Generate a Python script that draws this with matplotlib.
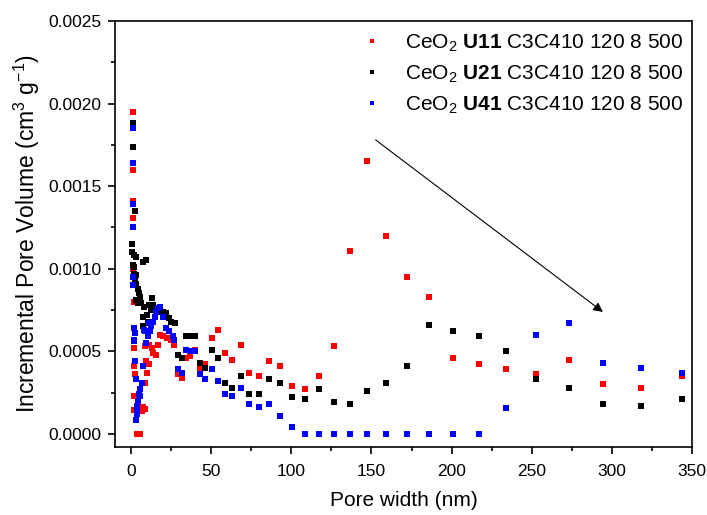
import matplotlib
matplotlib.use("Agg")
import matplotlib.pyplot as plt
from matplotlib.ticker import MultipleLocator, FormatStrFormatter

plt.rcParams['font.family'] = ['Liberation Sans', 'DejaVu Sans']
plt.rcParams['mathtext.fontset'] = 'custom'
plt.rcParams['mathtext.rm'] = 'Liberation Sans'
plt.rcParams['mathtext.bf'] = 'Liberation Sans:bold'

#pore width (nm) and incremental pore volume (cm3/g)
width_u11 = [1.1, 1.1, 1.1, 1.2, 1.3, 1.8, 2.1, 2.1, 2.5, 2.1, 2.1, 3.7, 5.8, 6.7, 7.5,
             8.7, 8.7, 9.5, 10.0, 11.2, 8.7, 11.2, 12.9, 13.7, 15.4, 17.0, 18.3, 20.2,
             22.3, 25.1, 26.8, 29.3, 31.6, 34.1, 36.9, 39.8, 43.0, 46.4, 50.2, 54.3,
             58.6, 63.2, 68.3, 73.7, 79.6, 86.1, 93.0, 100.4, 108.3, 117.0, 126.4, 136.6,
             147.4, 159.3, 172.0, 185.7, 200.6, 216.9, 233.9, 252.6, 273.0, 294.6, 318.2, 343.7]
vol_u11 = [0.00195, 0.00160, 0.00141, 0.00131, 0.00100, 0.00080, 0.00052, 0.00041, 0.00036,
           0.00023, 0.000145, 0.0, 0.0, 0.00014, 0.00016, 0.00015, 0.00031, 0.00044,
           0.00037, 0.00042, 0.00053, 0.00054, 0.00052, 0.00049, 0.00048, 0.00054, 0.00060,
           0.00059, 0.00058, 0.00057, 0.00054, 0.00036, 0.00034, 0.00046, 0.00047, 0.00051,
           0.00040, 0.00042, 0.00058, 0.00063, 0.00049, 0.00045, 0.00054, 0.00037, 0.00035,
           0.00044, 0.00041, 0.00029, 0.00027, 0.00035, 0.00053, 0.00111, 0.00165, 0.00120,
           0.00095, 0.00083, 0.00046, 0.00042, 0.00039, 0.00036, 0.00045, 0.00030, 0.00028,
           0.00035]

width_u21 = [1.0, 1.0, 2.5, 0.8, 0.8, 2.1, 2.9, 1.3, 2.1, 2.1, 3.3, 2.5, 3.3, 4.2, 5.0,
             5.4, 3.3, 4.6, 6.2, 7.7, 9.4, 8.1, 11.0, 12.8, 14.0, 14.8, 12.3, 7.7, 9.8,
             7.2, 10.8, 17.0, 19.9, 21.8, 23.5, 25.1, 27.3, 29.1, 31.6, 34.3, 37.2, 40.1,
             43.0, 46.4, 50.2, 54.3, 58.6, 63.2, 68.3, 73.7, 79.6, 86.1, 93.0, 100.4, 108.3,
             117.0, 126.4, 136.6, 147.4, 159.3, 172.0, 185.7, 200.6, 216.9, 233.9, 252.6,
             273.0, 294.6, 318.2, 343.7]
vol_u21 = [0.00188, 0.00174, 0.00135, 0.00115, 0.00110, 0.00108, 0.00107, 0.00102, 0.00101,
           0.00097, 0.00096, 0.00093, 0.00091, 0.00088, 0.00085, 0.00083, 0.00081, 0.00079,
           0.00079, 0.00104, 0.00105, 0.00077, 0.00078, 0.00082, 0.00078, 0.00076, 0.00075,
           0.00071, 0.00072, 0.00065, 0.00068, 0.00074, 0.00074, 0.00073, 0.00070, 0.00068,
           0.00067, 0.00048, 0.00046, 0.00059, 0.00059, 0.00059, 0.00043, 0.00040, 0.00051,
           0.00046, 0.00031, 0.00028, 0.00035, 0.00024, 0.00024, 0.00033, 0.00031, 0.00022,
           0.00021, 0.00027, 0.00019, 0.00018, 0.00026, 0.00031, 0.00041, 0.00066, 0.00062,
           0.00059, 0.00050, 0.00033, 0.00028, 0.00018, 0.00017, 0.00021]

width_u41 = [1.0, 1.0, 1.0, 1.0, 1.0, 1.2, 1.7, 2.5, 1.7, 1.7, 2.5, 2.9, 3.3, 3.7, 3.7,
             3.7, 4.2, 5.8, 5.0, 5.8, 7.0, 7.5, 9.5, 10.8, 7.9, 8.7, 11.2, 12.5, 11.9,
             13.5, 14.8, 15.6, 16.8, 18.1, 20.2, 21.6, 23.5, 26.0, 27.0, 29.1, 31.6, 34.5,
             37.4, 39.8, 43.0, 46.4, 50.2, 54.3, 58.6, 63.2, 68.3, 73.7, 79.6, 86.1, 93.0,
             100.4, 108.3, 117.0, 126.4, 136.6, 147.4, 159.3, 172.0, 185.7, 200.6, 216.9,
             233.9, 252.6, 273.0, 294.6, 318.2, 343.7]
vol_u41 = [0.00185, 0.00164, 0.00139, 0.00125, 0.00095, 0.00090, 0.00064, 0.00061, 0.00057,
           0.00056, 0.00044, 0.00033, 0.000085, 0.00012, 0.000145, 0.00017, 0.00020,
           0.00023, 0.00024, 0.00027, 0.00031, 0.00041, 0.00055, 0.00059, 0.00063, 0.00062,
           0.00067, 0.00065, 0.00062, 0.00068, 0.00071, 0.00074, 0.00076, 0.00077, 0.00071,
           0.00064, 0.00062, 0.00059, 0.00057, 0.00039, 0.00037, 0.00051, 0.00050, 0.00050,
           0.00036, 0.00033, 0.00039, 0.00032, 0.00024, 0.00023, 0.00028, 0.00018, 0.000165,
           0.00018, 0.00011, 0.000044, 0.0, 0.0, 0.0, 0.0, 0.0, 0.0, 0.0, 0.0, 0.0, 0.0,
           0.000157, 0.00060, 0.00067, 0.00043, 0.00040, 0.00037]

labels = [r'CeO$_2$ $\mathbf{U11}$ C3C410 120 8 500',
          r'CeO$_2$ $\mathbf{U21}$ C3C410 120 8 500',
          r'CeO$_2$ $\mathbf{U41}$ C3C410 120 8 500']

fig = plt.figure(figsize=(7.07, 5.15), dpi=100)
ax = fig.add_axes([0.1627, 0.132, 0.8161, 0.8272])

ax.plot(width_u11, vol_u11, 's', color='#ff0000', ms=4, mew=0, label=labels[0])
ax.plot(width_u21, vol_u21, 's', color='black', ms=4, mew=0, label=labels[1])
ax.plot(width_u41, vol_u41, 's', color='#0000ff', ms=4, mew=0, label=labels[2])

ax.annotate('', xy=(294.4, 0.000738), xytext=(152.6, 0.00178),
            arrowprops=dict(arrowstyle='-|>', color='black', lw=0.8,
                            mutation_scale=14, shrinkA=0, shrinkB=0))

ax.set_xlim(-10, 350)
ax.set_ylim(-0.00008, 0.0025)
ax.xaxis.set_major_locator(MultipleLocator(50))
ax.xaxis.set_minor_locator(MultipleLocator(25))
ax.yaxis.set_major_locator(MultipleLocator(0.0005))
ax.yaxis.set_minor_locator(MultipleLocator(0.00025))
ax.yaxis.set_major_formatter(FormatStrFormatter('%.4f'))
ax.tick_params(which='major', direction='out', length=5, width=1.2, labelsize=12.5, pad=5)
ax.tick_params(axis='x', which='major', pad=7)
ax.tick_params(which='minor', direction='out', length=3, width=1.2)
for s in ax.spines.values():
    s.set_linewidth(1.2)

ax.set_xlabel('Pore width (nm)', fontsize=15, labelpad=9)
ax.set_ylabel(r'Incremental Pore Volume (cm$^3$ g$^{-1}$)', fontsize=16.5, labelpad=4)

leg = ax.legend(loc='upper right', bbox_to_anchor=(1.005, 1.0), frameon=False, fontsize=15,
                handlelength=1.0, handletextpad=1.1, labelspacing=0.45, borderaxespad=0.15,
                markerscale=0.8)

fig.savefig('out.png', dpi=100)
